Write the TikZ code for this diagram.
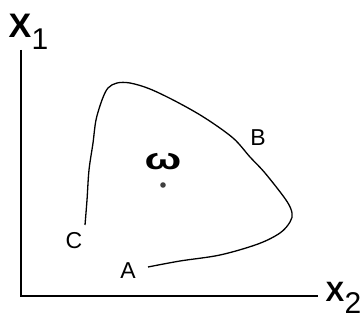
\documentclass[tikz,border=0pt]{standalone}
\usepackage{fontspec}
\setmainfont{Liberation Sans}
\begin{document}
\begin{tikzpicture}[x=1pt,y=-1pt,
  axisline/.style={line width=2pt},
  curveline/.style={line width=1.3pt},
  axlabel/.style={inner sep=0pt, font=\fontsize{#1}{#1}\selectfont\bfseries},
  sublabel/.style={inner sep=0pt, font=\fontsize{#1}{#1}\selectfont},
  ptlabel/.style={inner sep=0pt, font=\fontsize{23}{23}\selectfont}]
\useasboundingbox (0,0) rectangle (364,320);
% axes
\coordinate (top) at (21,50);
\coordinate (origin) at (21,296);
\coordinate (right) at (318,296);
\draw[axisline] (top) -- (origin) -- (right);
% axis labels
\node[axlabel=34] (x1) at (20,26) {X};
\node[sublabel=30, anchor=west] (x1s) at (x1.east) [yshift=-13pt] {1};
\node[axlabel=28] (x2) at (335,292) {X};
\node[sublabel=30, anchor=west] (x2s) at (x2.east) [yshift=-11pt] {2};
% curve
\draw[curveline] plot[smooth, tension=0.55] coordinates {
 (148,267) (180,261) (220,255) (258,244) (280,233) (290,222) (292,213)
 (286,200) (265,173) (250,157) (233,138) (205,118) (177,102) (150,89)
 (130,83) (117,83) (108,88) (102,100) (96,120) (93,143) (89,170)
 (87,200) (85,225)};
% point labels
\node[ptlabel] (A) at (128,271) {A};
\node[ptlabel] (B) at (258,138) {B};
\node[ptlabel] (C) at (74,241) {C};
% omega and dot
\node[inner sep=0pt, font=\fontsize{30}{30}\selectfont\bfseries, xscale=1.45] (w) at (163,162) {ω};
\fill[black!75] (163,185) circle (2.8);
\end{tikzpicture}
\end{document}
